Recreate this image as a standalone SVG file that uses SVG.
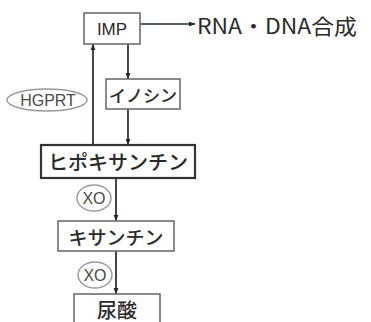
<svg xmlns="http://www.w3.org/2000/svg" width="371" height="322" viewBox="0 0 371 322">
<defs>
<style>
.box{fill:#fff;stroke:#6e6e6e;stroke-width:1.6}
.box2{fill:#fff;stroke:#333;stroke-width:2.2}
.enz{fill:#fff;stroke:#999;stroke-width:1.4}
.t{font-family:"Noto Sans CJK JP","Noto Sans",sans-serif;fill:#2a2a2a;text-anchor:middle;dominant-baseline:central;font-weight:500}
.e{font-family:"Liberation Sans","Noto Sans",sans-serif;fill:#4a4a4a;text-anchor:middle;dominant-baseline:central}
.ln{stroke:#1e2a22;stroke-width:1.7;fill:none}
</style>
<marker id="ah" viewBox="0 0 10 10" refX="10" refY="5" markerWidth="6" markerHeight="6" orient="auto" markerUnits="userSpaceOnUse">
<path d="M0,1 L10,5 L0,9 z" fill="#1e2a22"/>
</marker>
</defs>
<rect width="371" height="322" fill="#fff"/>
<g id="connectors">
<line class="ln" x1="141" y1="24" x2="195" y2="24" marker-end="url(#ah)"/>
<line class="ln" x1="128" y1="44" x2="128" y2="79" marker-end="url(#ah)"/>
<line class="ln" x1="128" y1="109" x2="128" y2="145" marker-end="url(#ah)"/>
<line class="ln" x1="93" y1="145" x2="93" y2="44" marker-end="url(#ah)"/>
<line class="ln" x1="116" y1="178" x2="116" y2="221" marker-end="url(#ah)"/>
<line class="ln" x1="116" y1="251" x2="116" y2="294" marker-end="url(#ah)"/>
</g>
<g id="imp">
<rect class="box" x="84" y="13" width="56" height="31"/>
<text class="e" x="112" y="29" font-size="17" style="fill:#2a2a2a">IMP</text>
</g>
<g id="rnadna">
<text class="t" x="197" y="25" font-size="21" style="text-anchor:start;font-weight:400" textLength="160" lengthAdjust="spacingAndGlyphs">RNA・DNA合成</text>
</g>
<g id="inosine">
<rect class="box" x="106" y="79" width="74" height="30"/>
<text class="t" x="143" y="94" font-size="17">イノシン</text>
</g>
<g id="hgprt">
<ellipse class="enz" cx="47" cy="100" rx="40" ry="11"/>
<text class="e" x="48" y="100" font-size="16">HGPRT</text>
</g>
<g id="hypoxanthine">
<rect class="box2" x="41" y="145" width="154" height="33"/>
<text class="t" x="118" y="161.5" font-size="20">ヒポキサンチン</text>
</g>
<g id="xo1">
<ellipse class="enz" cx="94" cy="198" rx="17" ry="13"/>
<text class="e" x="94" y="198" font-size="16">XO</text>
</g>
<g id="xanthine">
<rect class="box" x="58" y="221" width="116" height="30"/>
<text class="t" x="116" y="236" font-size="19">キサンチン</text>
</g>
<g id="xo2">
<ellipse class="enz" cx="95" cy="275" rx="17" ry="13"/>
<text class="e" x="95" y="275" font-size="16">XO</text>
</g>
<g id="uricacid">
<rect class="box" x="74" y="294" width="86" height="40"/>
<text class="t" x="117" y="309" font-size="20">尿酸</text>
</g>
</svg>
